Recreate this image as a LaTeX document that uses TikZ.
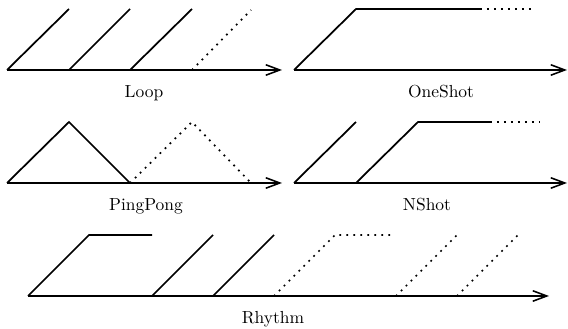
\documentclass[tikz,border=0pt]{standalone}
\usetikzlibrary{arrows.meta}
\begin{document}
\begin{tikzpicture}[x=0.573pt,y=-0.573pt,
  wave/.style={line width=1pt, line join=miter},
  dotwave/.style={line width=1pt, dash pattern=on 1pt off 3pt},
  axis/.style={line width=1pt,-{Straight Barb[length=8pt,width=6pt,line width=0.9pt]}},
  lbl/.style={anchor=base, inner sep=0pt}]
\useasboundingbox (0,0) rectangle (568,329);
% Loop
\draw[axis] (7,70) -- (282,70);
\draw[wave] (7,70) -- (69,9) (69,70) -- (130,9) (130,70) -- (192,9);
\draw[dotwave] (192,70) -- (251,10);
\node[lbl] (loop) at (144,98) {Loop};
% OneShot
\draw[axis] (294,70) -- (567,70);
\draw[wave] (294,70) -- (356,9) -- (480,9);
\draw[dotwave] (480,9) -- (535,9);
\node[lbl] (oneshot) at (441,98) {OneShot};
% PingPong
\draw[axis] (7,183) -- (282,183);
\draw[wave] (7,183) -- (69,122) -- (130,183);
\draw[dotwave] (130,183) -- (192,122) -- (251,183);
\node[lbl] (pingpong) at (146,210.5) {PingPong};
% NShot
\draw[axis] (294,183) -- (567,183);
\draw[wave] (294,183) -- (356,122) (356,183) -- (418,122) -- (490,122);
\draw[dotwave] (490,122) -- (540,122);
\node[lbl] (nshot) at (427,210.5) {NShot};
% Rhythm
\draw[axis] (28,296) -- (549,296);
\draw[wave] (28,296) -- (89,235) -- (152,235) (152,296) -- (213,235) (213,296) -- (274,235);
\draw[dotwave] (274,296) -- (335,235) -- (392,235) (396,296) -- (457,235) (457,296) -- (518,235);
\node[lbl] (rhythm) at (273,324) {Rhythm};
\end{tikzpicture}
\end{document}
